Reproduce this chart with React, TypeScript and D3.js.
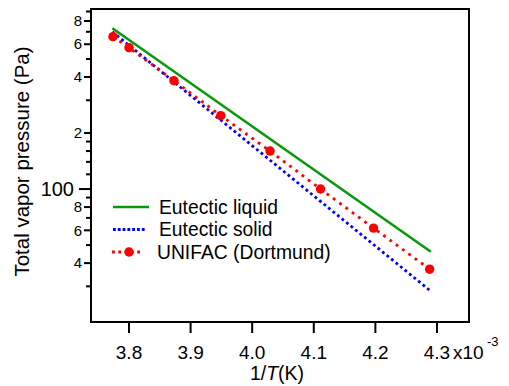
import * as d3 from "d3";

// 1/T in units of 1e-3 K^-1, pressures in Pa
const unifacInvT = [3.774, 3.8, 3.873, 3.949, 4.029, 4.111, 4.197, 4.288];
const unifacP = [659, 575, 382, 248, 160, 100, 61.7, 37.1];

const liquidInvT = [3.773, 4.29];
const liquidP = [731, 46.0];

const solidInvT = [3.773, 4.288];
const solidP = [700, 28.6];

const xTicks = [3.8, 3.9, 4.0, 4.1, 4.2, 4.3];
const yLabeled = [40, 60, 80, 200, 400, 600, 800];
const yMinor = [30, 50, 70, 90, 120, 140, 160, 180, 300, 500, 700, 900];
const yMajor = 100;

const W = 509;
const H = 386;
const M = { left: 91, right: 469, top: 9, bottom: 322 };
const FONT = "'Liberation Sans', Arial, Helvetica, sans-serif";

const x = d3.scaleLinear().domain([3.7383, 4.352]).range([M.left, M.right]);
const y = d3.scaleLog().domain([19.3, 928]).range([M.bottom, M.top]);

const line = d3
  .line<[number, number]>()
  .x((d) => x(d[0]))
  .y((d) => y(d[1]));

const zip = (a: number[], b: number[]) => a.map((v, i) => [v, b[i]] as [number, number]);

const GREEN = "#0a990a";
const BLUE = "#0000ff";
const RED = "#ff0000";

export default function App() {
  const legendX = 113;
  const legendY = 207;
  const rowH = 22.5;

  return (
    <svg
      width={W}
      height={H}
      viewBox={`0 0 ${W} ${H}`}
      style={{ position: "absolute", left: 0, top: 0, background: "#fff" }}
      fontFamily={FONT}
    >
      {/* series */}
      <path d={line(zip(liquidInvT, liquidP)) ?? ""} fill="none" stroke={GREEN} strokeWidth={2.6} />
      <path
        d={line(zip(solidInvT, solidP)) ?? ""}
        fill="none"
        stroke={BLUE}
        strokeWidth={2.8}
        strokeDasharray="2.8 3"
      />
      <path
        d={line(zip(unifacInvT, unifacP)) ?? ""}
        fill="none"
        stroke={RED}
        strokeWidth={2.8}
        strokeDasharray="2.8 5"
      />
      {unifacInvT.map((v, i) => (
        <circle key={i} cx={x(v)} cy={y(unifacP[i])} r={4.7} fill={RED} />
      ))}

      {/* frame */}
      <rect
        x={M.left}
        y={M.top}
        width={M.right - M.left}
        height={M.bottom - M.top}
        fill="none"
        stroke="#000"
        strokeWidth={2}
      />

      {/* x axis */}
      {xTicks.map((t) => (
        <g key={t}>
          <line x1={x(t)} x2={x(t)} y1={M.bottom} y2={M.bottom + 11} stroke="#000" strokeWidth={2} />
          <text x={x(t)} y={359} textAnchor="middle" fontSize={19}>
            {t.toFixed(1)}
          </text>
        </g>
      ))}
      <text x={x(4.3) + 16} y={359} fontSize={19}>
        x10
      </text>
      <text x={x(4.3) + 50} y={346} fontSize={13}>
        -3
      </text>
      <text x={277} y={380} textAnchor="middle" fontSize={19.5}>
        1/<tspan fontStyle="italic">T</tspan>(K)
      </text>

      {/* y axis */}
      {yMinor.map((t) => (
        <line key={t} x1={M.left - 5} x2={M.left} y1={y(t)} y2={y(t)} stroke="#000" strokeWidth={2} />
      ))}
      {yLabeled.map((t) => (
        <g key={t}>
          <line x1={M.left - 7} x2={M.left} y1={y(t)} y2={y(t)} stroke="#000" strokeWidth={2} />
          <text x={M.left - 9} y={y(t)} dy="0.35em" textAnchor="end" fontSize={15}>
            {String(t)[0]}
          </text>
        </g>
      ))}
      <line x1={M.left - 12} x2={M.left} y1={y(yMajor)} y2={y(yMajor)} stroke="#000" strokeWidth={2} />
      <text x={M.left - 17} y={y(yMajor)} dy="0.35em" textAnchor="end" fontSize={20}>
        100
      </text>
      <text
        transform={`translate(29,${161.5}) rotate(-90)`}
        textAnchor="middle"
        fontSize={20.5}
      >
        Total vapor pressure (Pa)
      </text>

      {/* legend */}
      <line x1={legendX} x2={legendX + 36} y1={legendY} y2={legendY} stroke={GREEN} strokeWidth={2.6} />
      <text x={159} y={legendY} dy="0.35em" fontSize={19.3}>
        Eutectic liquid
      </text>
      <line
        x1={legendX}
        x2={legendX + 32}
        y1={legendY + rowH}
        y2={legendY + rowH}
        stroke={BLUE}
        strokeWidth={2.8}
        strokeDasharray="2.8 2"
      />
      <text x={159} y={legendY + rowH} dy="0.35em" fontSize={19.3}>
        Eutectic solid
      </text>
      <line
        x1={legendX - 1}
        x2={legendX + 28}
        y1={legendY + 2 * rowH}
        y2={legendY + 2 * rowH}
        stroke={RED}
        strokeWidth={2.8}
        strokeDasharray="2.8 3.5"
      />
      <circle cx={legendX + 16} cy={legendY + 2 * rowH} r={4.7} fill={RED} />
      <text x={157} y={legendY + 2 * rowH} dy="0.35em" fontSize={19.3}>
        UNIFAC (Dortmund)
      </text>
    </svg>
  );
}
